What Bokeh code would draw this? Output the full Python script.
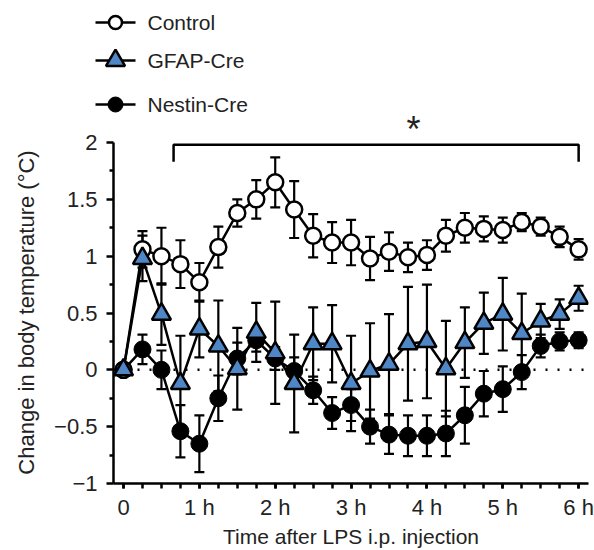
from bokeh.plotting import figure
from bokeh.layouts import column
from bokeh.core.properties import value
from bokeh.models import (Range1d, FixedTicker, Whisker, TeeHead, ColumnDataSource, Span)
from bokeh.embed import file_html
from bokeh.resources import INLINE

# ---- data ----
hours = [0, 0.25, 0.5, 0.75, 1.0, 1.25, 1.5, 1.75, 2.0, 2.25, 2.5, 2.75, 3.0,
         3.25, 3.5, 3.75, 4.0, 4.25, 4.5, 4.75, 5.0, 5.25, 5.5, 5.75, 6.0]

control = [0, 1.06, 1.00, 0.93, 0.77, 1.08, 1.38, 1.50, 1.65, 1.41, 1.18, 1.12, 1.12,
           0.98, 1.04, 0.99, 1.01, 1.18, 1.25, 1.24, 1.23, 1.30, 1.26, 1.17, 1.06]
control_err = [0, 0.16, 0.25, 0.21, 0.17, 0.18, 0.12, 0.17, 0.22, 0.25, 0.19, 0.18, 0.20,
               0.19, 0.17, 0.13, 0.13, 0.14, 0.13, 0.11, 0.11, 0.08, 0.08, 0.09, 0.09]

gfap = [0, 0.98, 0.49, -0.12, 0.36, 0.21, 0.01, 0.33, 0.15, -0.12, 0.23, 0.23, -0.12,
        -0.01, 0.05, 0.23, 0.25, 0.01, 0.24, 0.41, 0.49, 0.32, 0.43, 0.49, 0.63]
gfap_err = [0, 0.20, 0.27, 0.42, 0.25, 0.40, 0.36, 0.26, 0.45, 0.43, 0.32, 0.34, 0.42,
            0.42, 0.44, 0.50, 0.50, 0.42, 0.31, 0.27, 0.32, 0.35, 0.15, 0.13, 0.11]

nestin = [0, 0.18, 0.00, -0.54, -0.65, -0.25, 0.10, 0.26, 0.10, -0.01, -0.18, -0.38, -0.31,
          -0.50, -0.57, -0.58, -0.58, -0.56, -0.40, -0.21, -0.17, -0.02, 0.21, 0.25, 0.26]
nestin_err = [0, 0.13, 0.17, 0.23, 0.25, 0.20, 0.14, 0.10, 0.10, 0.12, 0.12, 0.14, 0.14,
              0.15, 0.17, 0.18, 0.18, 0.20, 0.25, 0.20, 0.20, 0.15, 0.10, 0.08, 0.07]

series_names = ["Control", "GFAP-Cre", "Nestin-Cre"]

x_ticks = [0, 1, 2, 3, 4, 5, 6]
x_tick_labels = ["0", "1 h", "2 h", "3 h", "4 h", "5 h", "6 h"]
x_minor = [0.25 * i for i in range(25)]
y_ticks = [-1, -0.5, 0, 0.5, 1, 1.5, 2]
y_tick_labels = ["\u22121", "\u22120.5", "0", "0.5", "1", "1.5", "2"]
y_minor = [-0.75, -0.25, 0.25, 0.75, 1.25, 1.75]

# significance bracket (data units) and its star
bracket_start, bracket_end = 0.66, 6.0
bracket_top, bracket_leg = 1.98, 1.83
star_text = "*"

FONT = "Liberation Sans"
BLUE = "#4f86c6"
TXT = "#222222"
TOP_H = 130          # legend strip height (px)

def no_frame_align(fig):
    if "frame_align" in fig.properties():
        fig.frame_align = False

# ---------------- main chart ----------------
p = figure(width=594, height=550 - TOP_H,
           x_range=Range1d(-0.132, 6.13), y_range=Range1d(-1, 2.009),
           output_backend="svg", toolbar_location=None,
           min_border_left=113, min_border_right=6,
           min_border_top=142 - TOP_H - 1, min_border_bottom=67)
no_frame_align(p)
p.outline_line_color = None
p.xgrid.visible = False
p.ygrid.visible = False

xa, ya = p.xaxis[0], p.yaxis[0]
xa.ticker = FixedTicker(ticks=x_ticks, minor_ticks=x_minor)
xa.major_label_overrides = {t: l for t, l in zip(x_ticks, x_tick_labels)}
ya.ticker = FixedTicker(ticks=y_ticks, minor_ticks=y_minor)
ya.major_label_overrides = {t: l for t, l in zip(y_ticks, y_tick_labels)}
ya.bounds = (y_ticks[0], y_ticks[-1])
for ax in (xa, ya):
    ax.axis_line_width = 2.5
    ax.major_tick_line_width = 2.5
    ax.minor_tick_line_width = 2.5
    ax.major_tick_in = 0
    ax.minor_tick_in = 0
    ax.major_label_text_font = FONT
    ax.major_label_text_font_size = "22px"
    ax.major_label_text_color = TXT
    ax.axis_label_text_font = FONT
    ax.axis_label_text_font_style = "normal"
    ax.axis_label_text_color = TXT
xa.major_tick_out = 5
xa.minor_tick_out = 5
xa.major_label_standoff = 6
xa.axis_label_standoff = 2
xa.axis_label_text_font_size = "21px"
xa.axis_label = "Time after LPS i.p. injection"
ya.major_tick_out = 7
ya.minor_tick_out = 4
ya.major_label_standoff = 9
ya.axis_label_standoff = 12
ya.axis_label_text_font_size = "22px"
ya.axis_label = "Change in body temperature (\u00b0C)"

p.add_layout(Span(location=0, dimension="width", line_color="black",
                  line_width=2.5, line_dash="2 10", level="underlay"))

def add_series(vals, errs, marker, size, fill, lw):
    src = ColumnDataSource(dict(
        x=hours, y=vals,
        upper=[v + e for v, e in zip(vals, errs)],
        lower=[v - e for v, e in zip(vals, errs)]))
    w = Whisker(base="x", upper="upper", lower="lower", source=src,
                line_color="black", line_width=2.2, level="underlay",
                upper_head=TeeHead(size=10, line_width=2.2, line_color="black"),
                lower_head=TeeHead(size=10, line_width=2.2, line_color="black"))
    p.add_layout(w)
    p.line("x", "y", source=src, line_color="black", line_width=2.5)
    p.scatter("x", "y", source=src, marker=marker, size=size,
              fill_color=fill, line_color="black", line_width=lw)

add_series(nestin, nestin_err, "circle", 17, "black", 1)
add_series(control, control_err, "circle", 16, "white", 2.5)
add_series(gfap, gfap_err, "triangle", 19, BLUE, 2.5)

p.line(x=[bracket_start, bracket_start, bracket_end, bracket_end],
       y=[bracket_leg, bracket_top, bracket_top, bracket_leg],
       line_color="black", line_width=2.5)

# ---------------- legend strip (pixel coordinates, y downwards) ----------------
top = figure(width=594, height=TOP_H, x_range=Range1d(0, 594), y_range=Range1d(TOP_H, 0),
             x_axis_type=None, y_axis_type=None,
             output_backend="svg", toolbar_location=None,
             min_border_left=0, min_border_right=0, min_border_top=0, min_border_bottom=0)
no_frame_align(top)
top.outline_line_color = None
top.xgrid.visible = False
top.ygrid.visible = False

# legend layout (px)
LEG_ROWS = [22, 60, 104]
LEG_X0, LEG_X1, LEG_MK, LEG_TX = 95, 135, 115, 147
styles = [("circle", 13, "white", 2.5), ("triangle", 19, BLUE, 2.5), ("circle", 15, "black", 1)]
for name, row, (mk, sz, fc, lw) in zip(series_names, LEG_ROWS, styles):
    top.line(x=[LEG_X0, LEG_X1], y=[row, row], line_color="black", line_width=2.5)
    top.scatter(x=[LEG_MK], y=[row], marker=mk, size=sz, fill_color=fc,
                line_color="black", line_width=lw)
    top.text(x=[LEG_TX], y=[row], text=[name], text_font=value(FONT),
             text_font_size="21px", text_baseline="middle", text_align="left",
             text_color=TXT)

# star above the bracket (px position of the bracket annotation)
STAR_X, STAR_BASE = 413, 129
top.text(x=[STAR_X], y=[STAR_BASE], text=[star_text], text_font=value(FONT),
         text_font_size="36px", text_baseline="alphabetic", text_align="center",
         text_color=TXT)

layout = column(top, p)
open("out.html", "w").write(file_html(layout, INLINE))
